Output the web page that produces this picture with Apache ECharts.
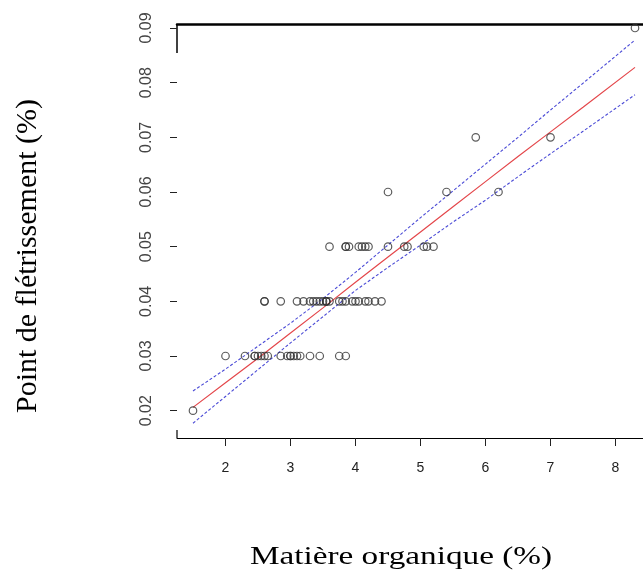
<!DOCTYPE html>
<html>
<head>
<meta charset="utf-8">
<script src="https://cdn.jsdelivr.net/npm/echarts@6/dist/echarts.min.js"></script>
<style>
html,body{margin:0;padding:0;background:#fff;}
#c{width:643px;height:575px;}
</style>
</head>
<body>
<div id="c"></div>
<script>
// ---- data ----
const xTicks = [2, 3, 4, 5, 6, 7, 8];
const yTicks = [0.02, 0.03, 0.04, 0.05, 0.06, 0.07, 0.08, 0.09];

// observations (matière organique %) grouped by point de flétrissement level
const mo_002 = [1.5];
const mo_003 = [2.0, 2.3, 2.45, 2.45, 2.5, 2.55, 2.6, 2.65, 2.85, 2.95, 3.0, 3.0, 3.05, 3.1, 3.15, 3.3, 3.45, 3.75, 3.85];
const mo_004 = [2.6, 2.6, 2.85, 3.1, 3.2, 3.3, 3.35, 3.4, 3.45, 3.5, 3.55, 3.55, 3.55, 3.6, 3.75, 3.8, 3.85, 3.95, 4.0, 4.05, 4.15, 4.2, 4.3, 4.4];
const mo_005 = [3.6, 3.85, 3.85, 3.9, 4.05, 4.1, 4.15, 4.2, 4.5, 4.75, 4.8, 5.05, 5.1, 5.2];
const mo_006 = [4.5, 5.4, 6.2];
const mo_007 = [5.85, 7.0];
const mo_009 = [8.3];
const levels = [0.02, 0.03, 0.04, 0.05, 0.06, 0.07, 0.09];

// regression line and confidence band (read at these x positions)
const fitX  = [1.5, 2, 2.5, 3, 3.5, 4, 4.5, 5, 5.5, 6, 6.5, 7, 7.5, 8.3];
const fitY  = [0.0206, 0.0251, 0.0296, 0.0342, 0.0388, 0.0435, 0.0481, 0.0527, 0.0573, 0.0619, 0.0665, 0.0710, 0.0755, 0.0828];
const upperY = [0.0236, 0.0276, 0.0318, 0.0360, 0.0405, 0.0453, 0.0503, 0.0553, 0.0602, 0.0651, 0.0700, 0.0750, 0.0799, 0.0878];
const lowerY = [0.0177, 0.0226, 0.0275, 0.0324, 0.0372, 0.0420, 0.0462, 0.0503, 0.0545, 0.0585, 0.0628, 0.0670, 0.0711, 0.0778];

// ---- build ----
const groups = [mo_002, mo_003, mo_004, mo_005, mo_006, mo_007, mo_009];
const points = [];
groups.forEach((g, i) => g.forEach(x => points.push([x, levels[i]])));
const zip = (xs, ys) => xs.map((x, i) => [x, ys[i]]);

const chart = echarts.init(document.getElementById('c'), null, {renderer: 'canvas'});
const sans = 'Liberation Sans, Arial, sans-serif';
const serif = 'Liberation Serif, Times New Roman, serif';

chart.setOption({
  animation: false,
  backgroundColor: '#fff',
  grid: {left: 177, top: 24, right: 0, bottom: 137, containLabel: false},
  xAxis: [{
    type: 'value', min: 1.254, max: 8.423,
    axisLine: {show: true, lineStyle: {color: '#000', width: 1}},
    axisTick: {show: true, customValues: xTicks, length: 8, lineStyle: {color: '#222', width: 1}},
    axisLabel: {show: true, customValues: xTicks, margin: 23, fontSize: 14, color: '#222', fontFamily: sans},
    splitLine: {show: false}
  }, {
    type: 'value', position: 'top', min: 1.254, max: 8.423,
    axisLine: {show: true, lineStyle: {color: '#000', width: 2.5}},
    axisTick: {show: false}, axisLabel: {show: false}, splitLine: {show: false}
  }],
  yAxis: {
    type: 'value', min: 0.015, max: 0.09073,
    axisLine: {show: false},
    axisTick: {show: true, customValues: yTicks, length: 7, lineStyle: {color: '#222', width: 1}},
    axisLabel: {show: true, customValues: yTicks, rotate: 90, margin: 22, fontSize: 16, color: '#444', fontFamily: sans,
      formatter: v => v.toFixed(2)},
    splitLine: {show: false}
  },
  series: [
    {type: 'line', data: zip(fitX, upperY), symbol: 'none', lineStyle: {color: '#4b4bd6', width: 1.1, type: [3, 2]}, z: 2},
    {type: 'line', data: zip(fitX, lowerY), symbol: 'none', lineStyle: {color: '#4b4bd6', width: 1.1, type: [3, 2]}, z: 2},
    {type: 'line', data: zip(fitX, fitY), symbol: 'none', lineStyle: {color: '#e4474b', width: 1.2}, z: 3},
    {type: 'scatter', data: points, symbol: 'circle', symbolSize: 7.5,
      itemStyle: {color: 'rgba(0,0,0,0)', borderColor: '#333', borderWidth: 1.2}, z: 4}
  ],
  graphic: [
    {type: 'text', x: 28, y: 256, rotation: Math.PI / 2,
      style: {text: 'Point de flétrissement (%)', font: '30px ' + serif, fill: '#000', textAlign: 'center', textVerticalAlign: 'middle'}},
    {type: 'text', x: 401, y: 557, scaleX: 1.33,
      style: {text: 'Matière organique (%)', font: '25px ' + serif, fill: '#000', textAlign: 'center', textVerticalAlign: 'middle'}},
    {type: 'line', shape: {x1: 177, y1: 24, x2: 177, y2: 53}, style: {stroke: '#000', lineWidth: 1.5}},
    {type: 'line', shape: {x1: 177, y1: 430, x2: 177, y2: 438}, style: {stroke: '#000', lineWidth: 1.2}}
  ]
});
</script>
</body>
</html>
